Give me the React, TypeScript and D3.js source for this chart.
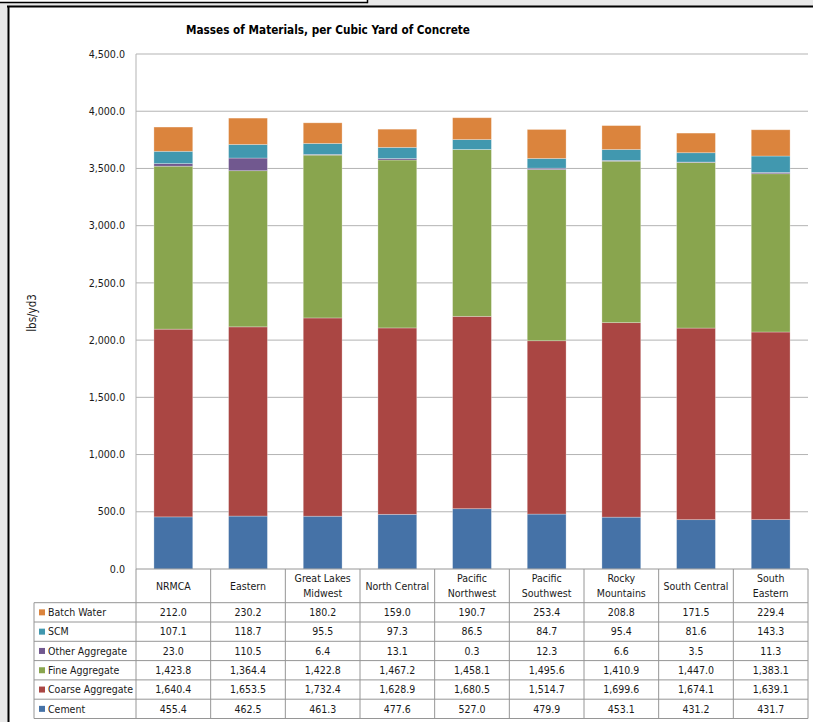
import React from 'react';
import * as d3 from 'd3';

// Regions (columns) and their two-line header labels
const regions = [
  'NRMCA', 'Eastern', 'Great Lakes Midwest', 'North Central', 'Pacific Northwest',
  'Pacific Southwest', 'Rocky Mountains', 'South Central', 'South Eastern',
];
const regionLabelLines = [
  ['NRMCA'], ['Eastern'], ['Great Lakes', 'Midwest'], ['North Central'], ['Pacific', 'Northwest'],
  ['Pacific', 'Southwest'], ['Rocky', 'Mountains'], ['South Central'], ['South', 'Eastern'],
];

// Masses in lbs per cubic yard, one value per region
const cement = [455.4, 462.5, 461.3, 477.6, 527.0, 479.9, 453.1, 431.2, 431.7];
const coarseAggregate = [1640.4, 1653.5, 1732.4, 1628.9, 1680.5, 1514.7, 1699.6, 1674.1, 1639.1];
const fineAggregate = [1423.8, 1364.4, 1422.8, 1467.2, 1458.1, 1495.6, 1410.9, 1447.0, 1383.1];
const otherAggregate = [23.0, 110.5, 6.4, 13.1, 0.3, 12.3, 6.6, 3.5, 11.3];
const scm = [107.1, 118.7, 95.5, 97.3, 86.5, 84.7, 95.4, 81.6, 143.3];
const batchWater = [212.0, 230.2, 180.2, 159.0, 190.7, 253.4, 208.8, 171.5, 229.4];

// Stacking order, bottom to top
const seriesKeys = ['Cement', 'Coarse Aggregate', 'Fine Aggregate', 'Other Aggregate', 'SCM', 'Batch Water'];
const seriesValues = [cement, coarseAggregate, fineAggregate, otherAggregate, scm, batchWater];
const seriesColors = ['#4572A7', '#AA4643', '#89A54E', '#71588F', '#4198AF', '#DB843D'];

const yTicks = [0, 500, 1000, 1500, 2000, 2500, 3000, 3500, 4000, 4500];

const FONT = '"Liberation Sans Narrow", "DejaVu Sans Condensed", "Liberation Sans", sans-serif';

export default function App() {
  const W = 813;
  const H = 722;
  const plotLeft = 136;
  const plotRight = 808;
  const plotTop = 54;
  const plotBottom = 569;

  const x = d3.scaleBand<string>().domain(regions).range([plotLeft, plotRight]).padding(0);
  const step = x.step();
  const barW = step * 0.52;
  const barOffset = (step - barW) / 2;

  const y = d3.scaleLinear().domain([0, 4500]).range([plotBottom, plotTop]);
  const fmt = d3.format(',.1f');

  const rows = regions.map((r, i) => {
    const o: Record<string, any> = { region: r };
    seriesKeys.forEach((k, s) => { o[k] = seriesValues[s][i]; });
    return o;
  });
  const stacked = d3.stack<any>().keys(seriesKeys)(rows);

  // Data table layout
  const headerBottom = 602.7;
  const rowH = 19.3;
  const tableLeft = 34;
  const tableRowKeys = [...seriesKeys].reverse();
  const tableBottom = headerBottom + rowH * tableRowKeys.length;
  const gridColor = '#b3b3b3';
  const tableColor = '#969696';
  const textFill = '#1a1a1a';

  return (
    <svg width={W} height={H} style={{ position: 'absolute', left: 0, top: 0, display: 'block' }}
      fontFamily={FONT}>
      {/* surrounding backdrop and frames */}
      <rect x={0} y={0} width={W} height={H} fill="#e9e9e9" />
      <rect x={0} y={0} width={367} height={2.5} fill="#ffffff" />
      <line x1={0} y1={2.5} x2={367.5} y2={2.5} stroke="#000" strokeWidth={1.5} />
      <line x1={367.5} y1={0} x2={367.5} y2={3.2} stroke="#000" strokeWidth={1.5} />
      <rect x={8} y={7} width={W - 8} height={H - 7} fill="#ffffff" />
      <line x1={7} y1={6.5} x2={W} y2={6.5} stroke="#000" strokeWidth={2} />
      <line x1={8.5} y1={6} x2={8.5} y2={H} stroke="#000" strokeWidth={2} />

      {/* title */}
      <text x={186} y={34} fontSize={12} fontWeight="bold" fill="#000" textLength={284}
        lengthAdjust="spacingAndGlyphs">Masses of Materials, per Cubic Yard of Concrete</text>

      {/* gridlines and y ticks */}
      {yTicks.map((t) => (
        <g key={t}>
          {t > 0 && (
            <line x1={plotLeft} x2={plotRight} y1={y(t)} y2={y(t)} stroke={gridColor} strokeWidth={1} />
          )}
          <text x={125} y={y(t)} dy="0.35em" textAnchor="end" fontSize={10.6} fill={textFill}>{fmt(t)}</text>
        </g>
      ))}
      <line x1={plotLeft} x2={plotLeft} y1={plotTop} y2={plotBottom} stroke={gridColor} strokeWidth={1} />

      {/* y axis title */}
      <text transform={`translate(36,313) rotate(-90)`} textAnchor="middle" fontSize={11.5} fill={textFill}>lbs/yd3</text>

      {/* stacked bars */}
      {stacked.map((layer, s) => (
        <g key={layer.key} fill={seriesColors[s]}>
          {layer.map((d, i) => (
            <rect key={i}
              x={(x(regions[i]) as number) + barOffset}
              y={y(d[1])}
              width={barW}
              height={Math.max(0, y(d[0]) - y(d[1]))}
              stroke="#ffffff" strokeOpacity={0.35} strokeWidth={0.8} />
          ))}
        </g>
      ))}

      {/* data table: horizontal lines */}
      <line x1={plotLeft} x2={plotRight} y1={plotBottom} y2={plotBottom} stroke={tableColor} strokeWidth={1} />
      {d3.range(tableRowKeys.length + 1).map((r) => (
        <line key={r} x1={tableLeft} x2={plotRight} y1={headerBottom + r * rowH} y2={headerBottom + r * rowH}
          stroke={tableColor} strokeWidth={1} />
      ))}
      {/* vertical lines */}
      <line x1={tableLeft} x2={tableLeft} y1={headerBottom} y2={tableBottom} stroke={tableColor} strokeWidth={1} />
      {d3.range(regions.length + 1).map((c) => {
        const xx = plotLeft + c * step;
        return <line key={c} x1={xx} x2={xx} y1={plotBottom} y2={tableBottom} stroke={tableColor} strokeWidth={1} />;
      })}

      {/* column headers */}
      {regions.map((r, i) => {
        const cx = (x(r) as number) + step / 2;
        const lines = regionLabelLines[i];
        const mid = (plotBottom + headerBottom) / 2;
        return (
          <text key={r} x={cx} textAnchor="middle" fontSize={10.5} fill={textFill}>
            {lines.map((ln, j) => (
              <tspan key={j} x={cx} y={mid + (j - (lines.length - 1) / 2) * 14.5} dy="0.35em">{ln}</tspan>
            ))}
          </text>
        );
      })}

      {/* rows: legend key, series name, values */}
      {tableRowKeys.map((k, r) => {
        const s = seriesKeys.indexOf(k);
        const cy = headerBottom + r * rowH + rowH / 2;
        return (
          <g key={k}>
            <rect x={39} y={cy - 3} width={6} height={6} fill={seriesColors[s]} />
            <text x={48} y={cy} dy="0.35em" fontSize={10.5} fill={textFill}>{k}</text>
            {regions.map((reg, i) => (
              <text key={reg} x={(x(reg) as number) + step / 2} y={cy} dy="0.35em" textAnchor="middle"
                fontSize={10.5} fill={textFill}>{fmt(seriesValues[s][i])}</text>
            ))}
          </g>
        );
      })}
    </svg>
  );
}
